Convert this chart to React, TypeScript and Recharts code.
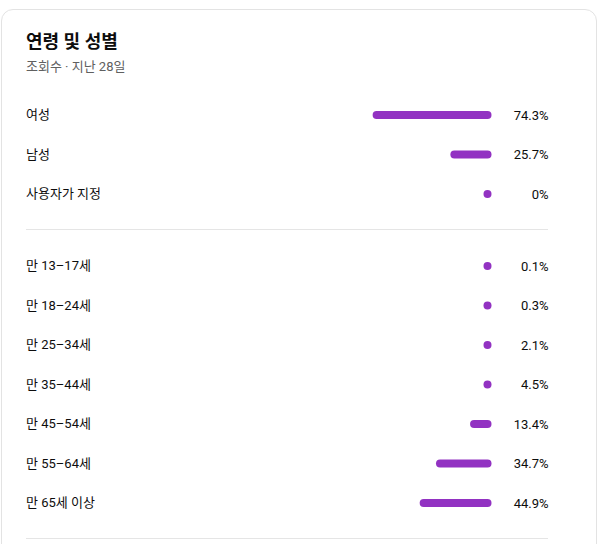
import React from 'react';
import { BarChart, Bar, XAxis, YAxis, LabelList } from 'recharts';

const genderLabels = ['여성', '남성', '사용자가 지정'];
const genderValues = [74.3, 25.7, 0];
const ageLabels = ['만 13–17세', '만 18–24세', '만 25–34세', '만 35–44세', '만 45–54세', '만 55–64세', '만 65세 이상'];
const ageValues = [0.1, 0.3, 2.1, 4.5, 13.4, 34.7, 44.9];

const FONT = "Roboto, 'Noto Sans CJK KR', sans-serif";
const PURPLE = '#9232c2';
const TEXT = '#0d0d0d';

const fmt = (v: number) => (v === 0 ? '0%' : `${v.toFixed(1)}%`);

const buildRows = (labels: string[], values: number[]) =>
  labels.map((label, i) => ({ label, value: values[i] }));

const PillBar = (props: any) => {
  const { x, y, width, height } = props;
  const right = Math.max(x, x + width);
  const w = Math.max(Math.abs(width), height);
  return <rect x={right - w} y={y} width={w} height={height} rx={height / 2} ry={height / 2} fill={PURPLE} />;
};

const PctLabel = (props: any) => {
  const { x, y, width, height, value } = props;
  const right = Math.max(x, x + width);
  return (
    <text x={right + 57} y={y + height / 2} textAnchor="end" dominantBaseline="central" fontSize={13} fill={TEXT} fontFamily={FONT}>
      {fmt(value)}
    </text>
  );
};

const LabelTick = (props: any) => {
  const { y, payload } = props;
  return (
    <text x={26} y={y} textAnchor="start" dominantBaseline="central" fontSize={13} fill={TEXT} fontFamily={FONT}>
      {payload.value}
    </text>
  );
};

const RowChart = ({ rows, height }: { rows: any[]; height: number }) => (
  <BarChart
    width={600}
    height={height}
    data={rows}
    layout="vertical"
    margin={{ top: 0, right: 108.5, bottom: 0, left: 0 }}
  >
    <XAxis type="number" domain={[0, 100]} reversed hide />
    <YAxis type="category" dataKey="label" width={331.5} axisLine={false} tickLine={false} tick={<LabelTick />} interval={0} />
    <Bar dataKey="value" barSize={8} shape={<PillBar />} isAnimationActive={false}>
      <LabelList dataKey="value" content={<PctLabel />} />
    </Bar>
  </BarChart>
);

export default function App() {
  const genderRows = buildRows(genderLabels, genderValues);
  const ageRows = buildRows(ageLabels, ageValues);
  const ROW = 39.5;
  return (
    <div style={{ position: 'absolute', left: 0, top: 0, width: 600, height: 544, overflow: 'hidden', background: '#fff', fontFamily: FONT }}>
      <div
        style={{
          position: 'absolute',
          left: 1,
          top: 9,
          width: 596,
          height: 600,
          border: '1px solid #e3e3e3',
          borderRadius: 12,
          boxSizing: 'border-box',
        }}
      />
      <div style={{ position: 'absolute', left: 26, top: 30, fontSize: 18, fontWeight: 700, color: TEXT, lineHeight: '24px' }}>
        연령 및 성별
      </div>
      <div style={{ position: 'absolute', left: 26, top: 58, fontSize: 13, color: '#606060', lineHeight: '18px' }}>
        조회수 · 지난 28일
      </div>
      <div style={{ position: 'absolute', left: 0, top: 114.3 - ROW / 2 }}>
        <RowChart rows={genderRows} height={ROW * genderRows.length} />
      </div>
      <div style={{ position: 'absolute', left: 26, top: 229, width: 522, height: 1, background: '#e5e5e5' }} />
      <div style={{ position: 'absolute', left: 0, top: 265.8 - ROW / 2 }}>
        <RowChart rows={ageRows} height={ROW * ageRows.length} />
      </div>
      <div style={{ position: 'absolute', left: 26, top: 538, width: 522, height: 1, background: '#e5e5e5' }} />
    </div>
  );
}
